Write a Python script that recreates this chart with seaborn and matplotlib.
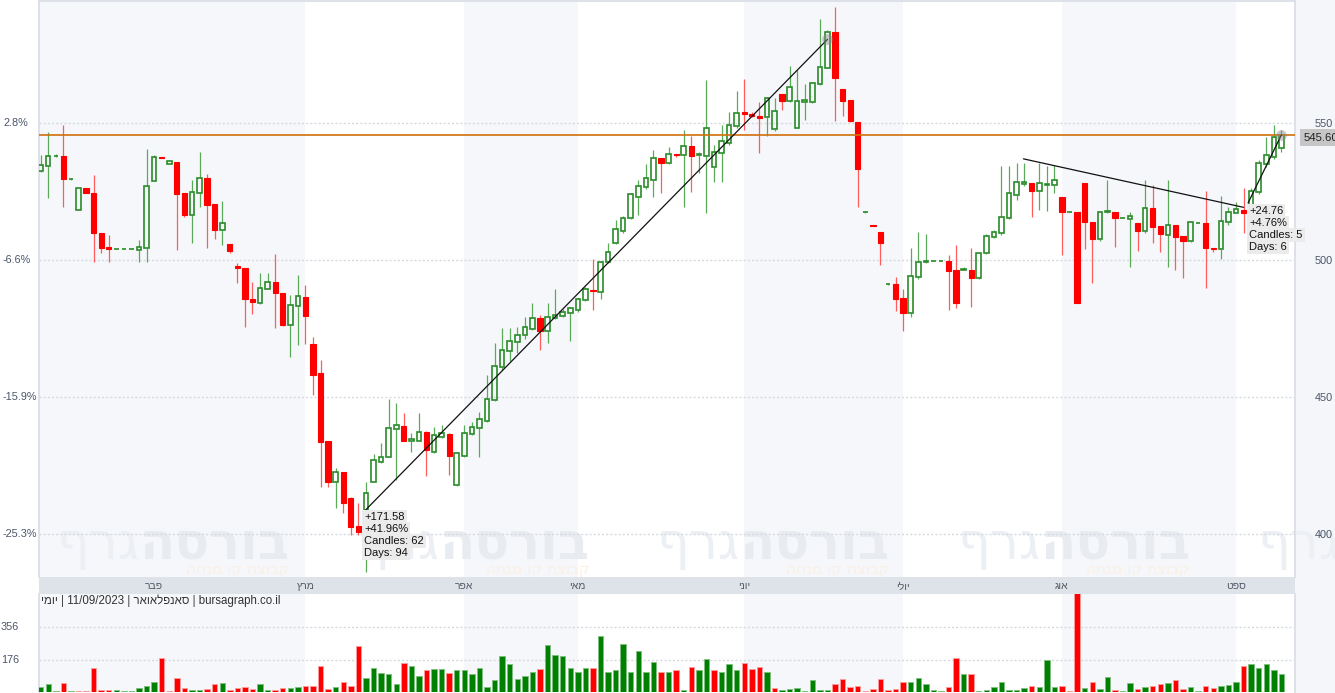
import numpy as np
import matplotlib
matplotlib.use("Agg")
import matplotlib.pyplot as plt
import seaborn as sns
from matplotlib.patches import Rectangle
from matplotlib.transforms import blended_transform_factory

# daily candles (index 0 = first visible day)
opens = [532.5, 534.3, 538.0, 538.0, 529.6, 518.2, 526.3, 524.5, 509.9, 504.7,
         504.0, 504.0, 504.0, 503.6, 504.4, 528.8, 537.6, 535.0, 535.8, 524.5,
         516.4, 524.5, 529.9, 520.4, 511.0, 505.8, 497.8, 497.1, 485.8, 484.3,
         489.4, 492.0, 488.0, 476.3, 483.2, 486.5, 469.3, 458.8, 434.0, 419.0,
         422.6, 413.1, 402.9, 408.8, 419.0, 426.3, 428.1, 438.3, 439.4, 434.0,
         434.0, 437.2, 430.0, 435.4, 436.5, 417.9, 428.5, 436.5, 438.7, 441.2,
         448.9, 461.0, 466.8, 470.1, 472.6, 474.8, 478.8, 474.1, 478.8, 479.6,
         480.7, 481.8, 485.4, 489.0, 488.3, 499.3, 506.2, 510.6, 515.3, 523.0,
         526.6, 529.2, 537.2, 535.4, 538.7, 538.3, 541.6, 538.3, 538.0, 534.0,
         539.0, 542.7, 548.9, 553.9, 553.2, 552.5, 552.2, 547.8, 560.6, 558.0,
         548.2, 557.8, 557.7, 564.2, 570.1, 583.2, 562.4, 558.4, 550.4, 517.5,
         512.8, 510.2, 491.1, 491.2, 486.1, 480.7, 493.8, 499.3, 499.6, 499.6,
         499.6, 496.4, 496.4, 496.4, 493.4, 502.6, 508.4, 509.9, 515.3, 523.7,
         527.8, 528.1, 525.2, 527.4, 527.4, 523.0, 517.5, 517.5, 528.1, 513.9,
         507.7, 517.5, 517.5, 515.3, 515.0, 513.5, 510.6, 519.0, 512.4, 509.1,
         512.8, 508.8, 506.9, 513.5, 513.5, 504.4, 504.0, 513.9, 517.2, 518.2,
         517.5, 524.8, 535.0, 537.6, 540.9]
highs = [538.3, 546.7, 538.5, 549.3, 530.0, 526.3, 526.3, 531.0, 509.9, 509.1,
         504.0, 504.0, 504.0, 507.3, 540.5, 538.3, 537.6, 536.1, 535.8, 524.5,
         529.2, 539.4, 531.4, 520.4, 521.5, 505.8, 498.9, 497.1, 492.0, 495.3,
         495.3, 502.2, 488.0, 487.2, 494.5, 490.9, 471.9, 463.5, 434.0, 424.0,
         422.6, 413.5, 411.3, 419.0, 429.2, 433.2, 449.3, 447.8, 444.2, 436.9,
         444.2, 437.5, 439.1, 439.8, 437.0, 430.0, 439.8, 440.9, 444.5, 458.0,
         469.7, 475.2, 475.2, 475.5, 479.2, 484.3, 480.0, 484.3, 489.4, 482.0,
         483.0, 486.0, 490.1, 500.4, 499.6, 506.2, 514.6, 516.0, 524.5, 529.2,
         535.0, 540.1, 537.2, 541.2, 538.7, 547.4, 545.3, 539.4, 565.7, 542.0,
         549.3, 554.0, 561.7, 566.0, 554.0, 557.7, 559.5, 559.0, 560.6, 570.8,
         569.3, 564.2, 564.9, 588.0, 584.0, 592.3, 562.4, 558.4, 550.4, 517.8,
         512.8, 510.2, 491.5, 493.8, 489.4, 504.4, 510.2, 509.5, 499.6, 499.6,
         501.8, 505.5, 497.5, 504.4, 503.0, 509.5, 511.0, 534.3, 534.3, 535.4,
         535.4, 528.1, 535.4, 534.3, 534.7, 523.0, 517.5, 517.5, 528.1, 513.9,
         517.7, 529.2, 517.5, 515.3, 517.5, 513.5, 529.2, 527.4, 512.4, 529.2,
         512.8, 508.8, 514.2, 513.5, 525.2, 504.4, 523.4, 519.3, 521.0, 526.3,
         526.3, 536.5, 544.9, 549.3, 547.4]
lows = [532.0, 522.6, 537.5, 519.3, 529.3, 518.2, 524.5, 499.3, 502.6, 499.3,
        504.0, 504.0, 504.0, 499.3, 499.3, 528.8, 537.3, 535.0, 503.6, 515.7,
        506.2, 519.3, 504.4, 507.7, 505.5, 502.6, 491.6, 475.5, 480.3, 484.0,
        489.4, 475.2, 475.9, 464.6, 469.0, 469.3, 450.7, 417.2, 417.0, 409.5,
        407.7, 399.6, 399.6, 386.1, 419.0, 426.0, 428.0, 419.7, 434.0, 430.0,
        434.0, 421.2, 429.6, 435.0, 421.5, 417.5, 428.0, 436.0, 428.0, 441.0,
        448.5, 460.0, 463.0, 466.0, 471.0, 474.5, 467.2, 469.7, 478.5, 479.0,
        470.4, 481.0, 485.0, 481.8, 485.8, 499.0, 506.0, 510.0, 515.0, 516.4,
        526.0, 523.0, 524.5, 535.0, 537.6, 519.3, 524.8, 531.8, 517.2, 528.5,
        528.5, 542.0, 548.0, 547.4, 552.0, 539.0, 545.3, 547.0, 554.7, 557.5,
        548.0, 551.1, 557.3, 564.0, 570.0, 550.7, 552.6, 550.4, 519.3, 517.2,
        512.3, 498.2, 490.8, 481.4, 474.1, 479.2, 493.0, 499.0, 499.6, 499.6,
        481.8, 482.5, 496.2, 482.8, 493.0, 502.0, 508.0, 509.0, 515.0, 521.9,
        527.0, 515.7, 518.2, 517.9, 524.5, 501.8, 517.5, 484.3, 504.0, 491.6,
        507.0, 517.0, 504.7, 515.3, 497.4, 503.3, 510.0, 506.2, 502.9, 497.4,
        496.4, 493.4, 506.5, 513.5, 489.8, 503.0, 500.4, 512.8, 517.0, 509.9,
        517.0, 524.0, 534.0, 537.0, 539.4]
closes = [534.7, 538.0, 538.0, 529.6, 529.6, 526.3, 524.5, 509.9, 504.4, 504.0,
          504.0, 504.0, 504.0, 504.7, 527.0, 537.6, 537.3, 536.1, 524.1, 516.4,
          524.8, 529.9, 520.1, 511.0, 513.5, 503.3, 497.1, 485.8, 484.7, 489.8,
          492.0, 488.0, 476.3, 483.6, 486.9, 479.6, 458.0, 433.6, 419.0, 422.6,
          411.3, 402.6, 400.7, 415.0, 427.0, 428.1, 438.7, 439.8, 434.0, 434.5,
          437.2, 430.7, 436.1, 436.9, 428.5, 429.6, 436.9, 439.0, 442.0, 449.3,
          461.3, 467.2, 470.4, 472.6, 475.5, 478.8, 474.1, 479.2, 479.9, 481.0,
          482.5, 485.8, 489.4, 488.6, 499.3, 502.9, 511.3, 515.3, 524.1, 527.0,
          529.9, 537.2, 535.4, 538.7, 538.3, 541.6, 538.0, 538.5, 548.2, 539.4,
          543.4, 549.3, 553.6, 553.3, 552.6, 551.9, 559.1, 554.4, 558.0, 563.1,
          558.0, 558.2, 564.6, 570.4, 583.2, 566.4, 558.0, 550.7, 533.2, 517.5,
          512.5, 506.2, 491.1, 485.8, 480.7, 494.2, 499.3, 499.6, 499.6, 499.6,
          496.0, 484.3, 496.6, 493.4, 502.6, 508.8, 510.2, 515.7, 524.5, 528.5,
          528.5, 525.2, 528.1, 527.7, 529.2, 517.5, 517.5, 484.3, 513.9, 507.7,
          517.5, 517.7, 515.3, 515.3, 516.1, 510.6, 519.0, 512.0, 509.5, 512.8,
          508.4, 506.9, 513.9, 513.5, 504.4, 504.0, 514.2, 517.5, 518.6, 517.2,
          525.2, 535.4, 538.3, 544.9, 545.6]
volumes = [29, 42, 7, 48, 4, 4, 7, 130, 9, 9,
           13, 7, 4, 20, 35, 56, 185, 4, 78, 20,
           9, 9, 18, 46, 51, 9, 20, 29, 15, 46,
           9, 9, 20, 20, 29, 35, 35, 144, 15, 26,
           56, 31, 254, 75, 133, 106, 100, 42, 161, 144,
           89, 119, 124, 128, 104, 120, 120, 97, 130, 29,
           64, 199, 152, 70, 86, 111, 124, 256, 204, 199,
           130, 111, 130, 130, 309, 108, 120, 261, 108, 226,
           108, 163, 108, 108, 119, 11, 135, 119, 179, 119,
           108, 152, 119, 157, 126, 135, 111, 20, 11, 18,
           24, 7, 64, 11, 11, 42, 70, 26, 35, 7,
           18, 70, 11, 15, 56, 56, 78, 46, 9, 3,
           29, 185, 97, 100, 4, 9, 29, 56, 9, 9,
           20, 35, 29, 176, 29, 35, 4, 540, 20, 56,
           15, 82, 9, 4, 51, 15, 26, 35, 42, 51,
           64, 15, 26, 4, 31, 20, 31, 38, 53, 144,
           155, 130, 155, 120, 97]
vol_dir = ("gggrgrrrrr" "ggggggrrrr" "ggrrgrrrrg" "grrggrrrrg" "rrrgggggrg"
           "grggrggggg" "ggggggrggg" "gggrgggggg" "ggrgrgrggr" "gggrrrgrgg"
           "gggggrrrrr" "rrrrrggggg" "rrgrgggggg" "grgggrrrgr" "ggrggrgrrg"
           "rrggrrgggr" "ggggg")

months = ["פבר", "מרץ", "אפר", "מאי", "יוני", "יולי", "אוג", "ספט"]
month_start = [15, 35, 56, 71, 93, 114, 135, 158]
shaded_months = [(-1, 35), (56, 71), (93, 114), (135, 158)]

price_ticks = [400, 450, 500, 550]
pct_labels = ["-25.3%", "-15.9%", "-6.6%", "2.8%"]
vol_ticks = [176, 356]
last_price = 545.60

trend_up1_x, trend_up1_y = [43, 104], [408.9, 580.5]
trend_down_x, trend_down_y = [129.9, 159.0], [536.9, 519.2]
trend_up2_x, trend_up2_y = [159.6, 164], [520.84, 545.6]
ann1 = ["+171.58", "+41.96%", "Candles: 62", "Days: 94"]
ann2 = ["+24.76", "+4.76%", "Candles: 5", "Days: 6"]


def rtl(s):
    # matplotlib lays glyphs left to right, so hebrew words are flipped
    return s[::-1]


sns.set_theme(style="white")
plt.rcParams['font.family'] = ['Liberation Sans', 'DejaVu Sans']

GREEN = '#2a8c2a'
GREEN_WICK = '#5aaa5a'
RED = '#ff0000'
RED_WICK = '#ff5c5c'
BAND = '#f5f7fa'
LABEL = '#4a5568'
GRID = '#d6dae0'

W, H = 1335, 693
fig = plt.figure(figsize=(W / 100, H / 100), dpi=100)
fig.patch.set_facecolor('white')


def box(x0, y0, x1, y1):
    return [x0 / W, 1 - y1 / H, (x1 - x0) / W, (y1 - y0) / H]


ax_strip = fig.add_axes(box(39, 577, 1295, 594))
ax = fig.add_axes(box(39, 1, 1295, 577))
axv = fig.add_axes(box(39, 594, 1295, 692))

# right price-scale background
fig.add_artist(Rectangle((1295 / W, 0), 40 / W, 1, transform=fig.transFigure,
                         facecolor='#f5f6f9', edgecolor='none', zorder=-1))

n = len(closes)
idx = np.arange(n)
o, h, l, c = (np.array(a) for a in (opens, highs, lows, closes))
up = c >= o
lo_b = np.minimum(o, c)
hi_b = np.maximum(o, c)
xlim = (-0.22, 165.8)

# ---- price panel
for a0, a1 in shaded_months:
    ax.axvspan(a0, a1, color=BAND, lw=0, zorder=0)

# watermark
for k in range(5):
    xs = 13.1 + k * 39.66
    ax.text(xs, 391.0, rtl("בורסה"), ha='left', va='baseline', fontsize=37,
            fontweight='bold', color='#e8ecf1', family='DejaVu Sans',
            zorder=0.5, clip_on=False)
    ax.text(xs, 391.0, rtl("גרף"), ha='right', va='baseline', fontsize=37,
            color='#eceff3', family='DejaVu Sans', zorder=0.5, clip_on=False)
    ax.text(xs + 19.8, 385.4, rtl("קבוצת קו מנחה"), ha='right', va='baseline',
            fontsize=11, color='#fcefe4', family='DejaVu Sans', zorder=0.5,
            clip_on=False)

ax.vlines(idx[up], hi_b[up], h[up], color=GREEN_WICK, lw=0.9, zorder=2)
ax.vlines(idx[up], l[up], lo_b[up], color=GREEN_WICK, lw=0.9, zorder=2)
ax.vlines(idx[~up], l[~up], h[~up], color=RED_WICK, lw=0.9, zorder=2)
ax.bar(idx[up], hi_b[up] - lo_b[up], bottom=lo_b[up], width=0.6,
       facecolor='none', edgecolor=GREEN, lw=1.2, zorder=3)
ax.bar(idx[~up], hi_b[~up] - lo_b[~up], bottom=lo_b[~up], width=0.7,
       color=RED, edgecolor=RED, lw=0.8, zorder=3)

ax.axhline(last_price, color='#d0700c', lw=1.2, zorder=4)

for tx, ty in ((trend_up1_x, trend_up1_y), (trend_down_x, trend_down_y),
               (trend_up2_x, trend_up2_y)):
    ax.plot(tx, ty, color='#111111', lw=0.9, zorder=5)
ax.scatter([trend_up1_x[1], trend_up2_x[1]], [trend_up1_y[1], trend_up2_y[1]],
           s=60, color='#888888', alpha=0.45, lw=0, zorder=6)

for lines, (x0, y0) in ((ann1, (42.75, 406.3)), (ann2, (159.75, 518.0))):
    for k, t in enumerate(lines):
        ax.annotate(t, xy=(x0, y0), xytext=(0, -k * 8.8), textcoords='offset points',
                    ha='left', va='center', fontsize=8, color='#111111',
                    bbox=dict(boxstyle='square,pad=0.18', fc='#ebebeb', ec='none'),
                    zorder=7, annotation_clip=False)

ax.set_xlim(*xlim)
ax.set_ylim(384.3, 594.5)
ax.set_yticks(price_ticks)
ax.yaxis.tick_right()
ax.tick_params(axis='y', length=0, pad=14, labelsize=7.8, labelcolor=LABEL)
ax.set_xticks([])
ax.grid(axis='y', color=GRID, ls=(0, (1.5, 1.5)), lw=1)
ax.set_axisbelow(True)

blend = blended_transform_factory(fig.transFigure, ax.transData)
for p, lab in zip(price_ticks, pct_labels):
    ax.text(3 / W, p, lab, transform=blend, ha='left', va='center',
            fontsize=7.8, color=LABEL, clip_on=False)

ax.annotate(f"{last_price:.2f}", xy=(1, last_price), xycoords=('axes fraction', 'data'),
            xytext=(6, 1.5), textcoords='offset points', ha='left', va='top',
            fontsize=8.2, color='#222222', annotation_clip=False,
            bbox=dict(boxstyle='square,pad=0.3', fc='#c6c6c6', ec='none'), zorder=8)

for s in ('left', 'right', 'top'):
    ax.spines[s].set_color('#d8dde4')
    ax.spines[s].set_linewidth(1.2)
ax.spines['bottom'].set_visible(False)

# ---- month strip
ax_strip.set_facecolor('#dee2e9')
ax_strip.set_xlim(*xlim)
ax_strip.set_ylim(0, 1)
for m, pos in zip(months, month_start):
    ax_strip.text(pos, 0.45, rtl(m), ha='center', va='center', fontsize=7.5,
                  color='#505a66')
ax_strip.set_xticks([])
ax_strip.set_yticks([])
for s in ax_strip.spines.values():
    s.set_visible(False)

# ---- volume panel
sns.barplot(x=idx, y=volumes, hue=list(vol_dir), palette={'g': '#008000', 'r': '#ff0000'},
            dodge=False, width=0.72, saturation=1, errorbar=None, legend=False,
            ax=axv, zorder=3)
for cont in axv.containers:
    for bar in cont:
        fc = bar.get_facecolor()
        bar.set_edgecolor('#7fbf7f' if fc[1] > fc[0] else '#ff9a9a')
        bar.set_linewidth(0.7)
for a0, a1 in shaded_months:
    axv.axvspan(a0, a1, color=BAND, lw=0, zorder=0)
axv.set_xlim(*xlim)
axv.set_ylim(0, 537)
axv.set_yticks(vol_ticks)
axv.set_yticklabels([])
axv.tick_params(length=0)
axv.set_xticks([])
axv.set_xlabel('')
axv.set_ylabel('')
axv.grid(axis='y', color=GRID, ls=(0, (1.5, 1.5)), lw=1)
axv.set_axisbelow(True)
for s in ('left', 'right'):
    axv.spines[s].set_color('#d8dde4')
    axv.spines[s].set_linewidth(1.2)
axv.spines['top'].set_visible(False)
axv.spines['bottom'].set_visible(False)

vblend = blended_transform_factory(fig.transFigure, axv.transData)
for v in vol_ticks:
    axv.text(1 / W, v, str(v), transform=vblend, ha='left', va='center',
             fontsize=7.8, color=LABEL, clip_on=False)

info = rtl("יומי") + " | 11/09/2023 | " + rtl("סאנפלאואר") + " | bursagraph.co.il"
fig.text(41 / W, 1 - 601 / H, info, ha='left', va='center', fontsize=8.3, color='#333333')

fig.savefig('out.png', dpi=100)
